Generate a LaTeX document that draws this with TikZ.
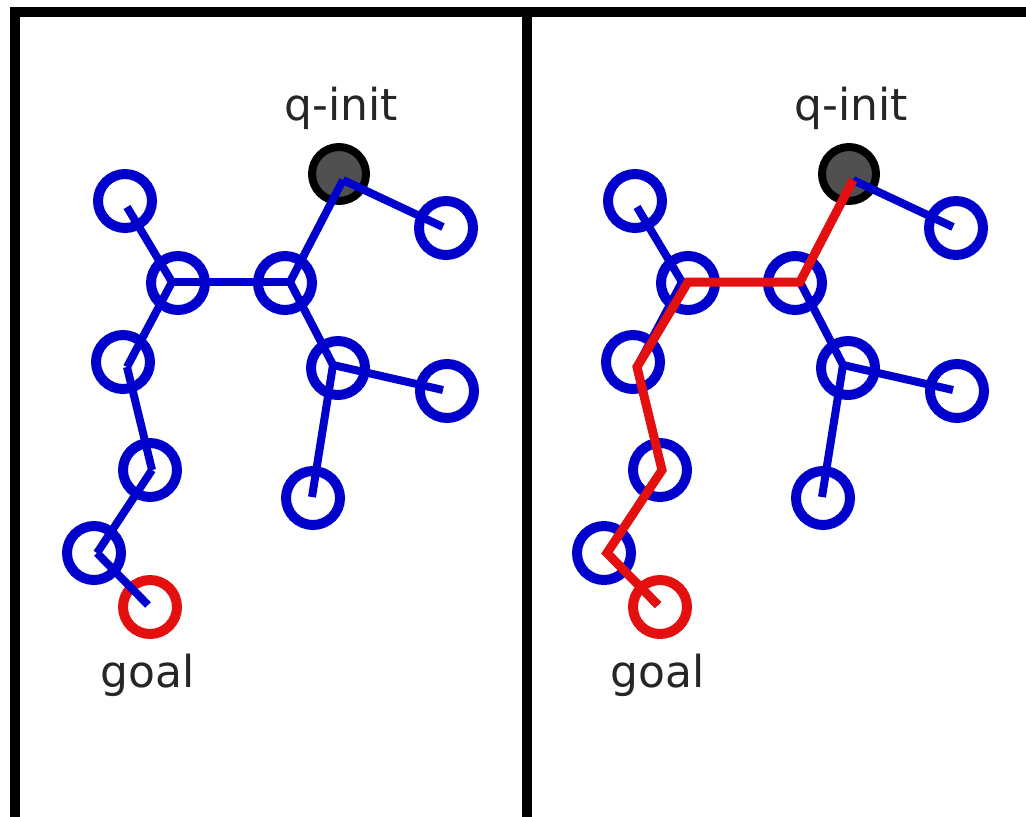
\documentclass[tikz,border=0pt]{standalone}
\usepackage{fontspec}
\setmainfont{DejaVu Sans}
\definecolor{treeblue}{RGB}{0,0,205}
\definecolor{pathred}{RGB}{228,16,16}
\definecolor{qgray}{RGB}{80,80,80}
\tikzset{
  vtx/.style={circle, draw=treeblue, line width=10pt, minimum size=54pt, inner sep=0pt},
  goalnode/.style={vtx, draw=pathred},
  startnode/.style={circle, draw=black, fill=qgray, line width=8pt, minimum size=54pt, inner sep=0pt},
  treeedge/.style={draw=treeblue, line width=8pt},
  pathedge/.style={draw=pathred, line width=9pt},
  lbl/.style={font=\fontsize{44}{50}\selectfont, text=black!85, anchor=base, inner sep=0pt},
  frameline/.style={draw=black, line width=10pt}
}
\newcommand{\rrtTree}{%
  % circles
  \node[startnode] (cQ) at (339,174) {};
  \node[vtx] (cA) at (125,201) {};
  \node[vtx] (cB) at (178,283) {};
  \node[vtx] (cC) at (285,283) {};
  \node[vtx] (cD) at (446,228) {};
  \node[vtx] (cE) at (123,362) {};
  \node[vtx] (cF) at (338,368) {};
  \node[vtx] (cG) at (447,391) {};
  \node[vtx] (cH) at (313,498) {};
  \node[vtx] (cI) at (150,470) {};
  \node[vtx] (cJ) at (94,553) {};
  \node[goalnode] (cK) at (150,607) {};
  % vertices
  \coordinate (Q) at (343,180);
  \coordinate (A) at (127,207);
  \coordinate (B) at (172,282);
  \coordinate (C) at (290,282);
  \coordinate (D) at (443,227);
  \coordinate (E) at (127,367);
  \coordinate (F) at (333,365);
  \coordinate (G) at (443,390);
  \coordinate (H) at (312,497);
  \coordinate (I) at (152,470);
  \coordinate (J) at (97,553);
  \coordinate (K) at (148,605);
  % edges
  \draw[treeedge] (A) -- (B);
  \draw[treeedge] (B) -- (C);
  \draw[treeedge] (C) -- (Q);
  \draw[treeedge] (Q) -- (D);
  \draw[treeedge] (C) -- (F);
  \draw[treeedge] (F) -- (G);
  \draw[treeedge] (F) -- (H);
  \draw[treeedge] (B) -- (E);
  \draw[treeedge] (E) -- (I);
  \draw[treeedge] (I) -- (J);
  \draw[treeedge] (J) -- (K);
  % labels
  \node[lbl] (lq) at (341,120) {q-init};
  \node[lbl] (lg) at (148,687) {goal};
}
\begin{document}
\begin{tikzpicture}[x=1pt,y=-1pt]
  \useasboundingbox[fill=white] (0,0) rectangle (1026,817);
  % frame
  \draw[frameline, line join=miter] (15,817) -- (15,12) -- (1040,12);
  \draw[frameline] (527,12) -- (527,817);
  % left panel
  \begin{scope}[name prefix=L-]
    \rrtTree
  \end{scope}
  % right panel
  \begin{scope}[xshift=510pt, name prefix=R-]
    \rrtTree
    \coordinate (pB) at (178,282);
    \draw[pathedge] (Q) -- (C) -- (pB) -- (E) -- (I) -- (J) -- (K);
  \end{scope}
\end{tikzpicture}
\end{document}
